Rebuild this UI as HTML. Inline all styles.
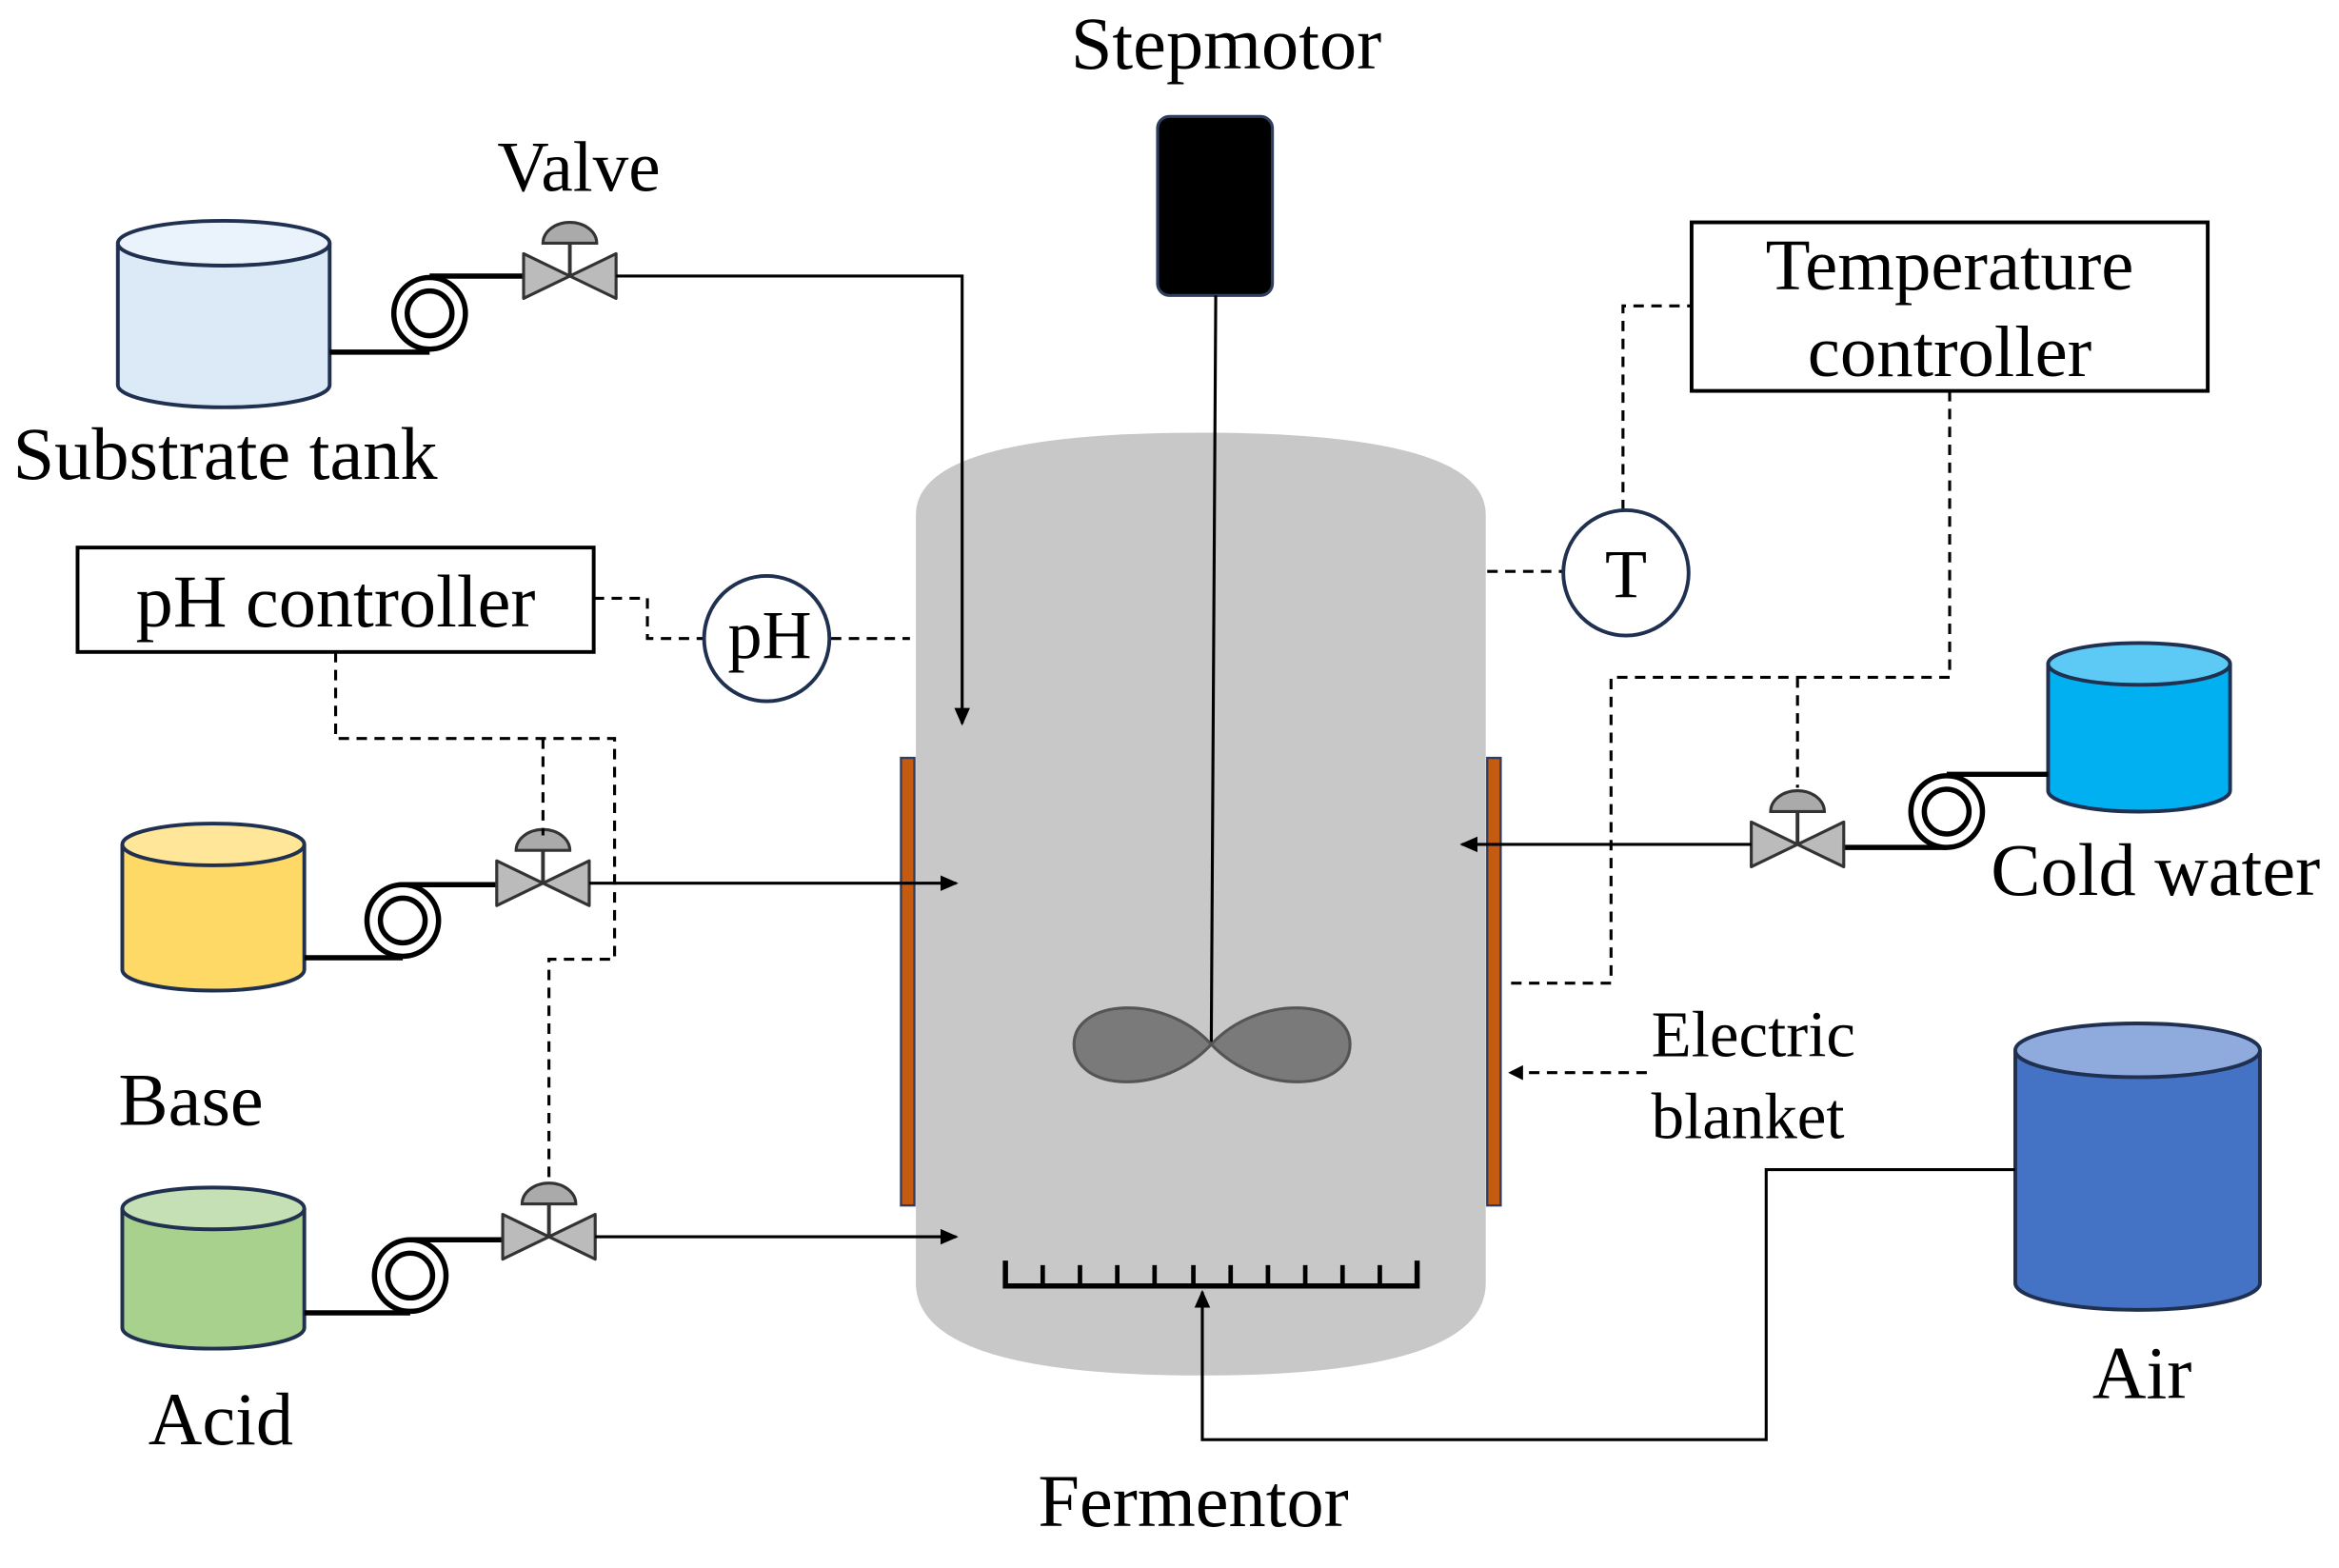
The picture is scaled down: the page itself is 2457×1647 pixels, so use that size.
<!DOCTYPE html>
<html><head><style>html,body{margin:0;padding:0;background:#fff}svg{display:block}</style></head>
<body>
<svg width="2457" height="1647" viewBox="0 0 1568 1051" xmlns="http://www.w3.org/2000/svg" font-family="Liberation Serif, serif">
<defs>
<marker id="ar" markerWidth="10" markerHeight="10" refX="9" refY="5" orient="auto" markerUnits="userSpaceOnUse"><path d="M0,0 L10,5 L0,10 z" fill="#000"/></marker>
<marker id="ar2" markerWidth="12" markerHeight="14" refX="14" refY="7" orient="auto" markerUnits="userSpaceOnUse" viewBox="0 0 16 14"><path d="M0,0 L16,7 L0,14 z" fill="#000"/></marker>
<g id="valve"><path d="M-31,-15 L31,15 L31,-15 L-31,15 Z" fill="#bbb" stroke="#333" stroke-width="2" stroke-linejoin="round"/><line x1="0" y1="0" x2="0" y2="-22" stroke="#333" stroke-width="2.5"/><path d="M-18,-22 A18,14 0 0 1 18,-22 Z" fill="#aaa" stroke="#333" stroke-width="2"/></g>
<g id="pump"><circle cx="0" cy="0" r="24" fill="#fff" stroke="#000" stroke-width="3.5"/><circle cx="0" cy="0" r="15" fill="#fff" stroke="#000" stroke-width="3.5"/></g>
</defs>
<path d="M614,345 Q614,290 805,290 Q996,290 996,345 L996,860 Q996,922 805,922 Q614,922 614,860 Z" fill="#c8c8c8"/>
<rect x="604" y="508" width="9" height="300" fill="#c55a11" stroke="#2f3e60" stroke-width="1.5"/>
<rect x="997" y="508" width="9" height="300" fill="#c55a11" stroke="#2f3e60" stroke-width="1.5"/>
<rect x="776" y="78" width="77" height="120" rx="8" fill="#000" stroke="#2f3e60" stroke-width="2"/>
<line x1="815" y1="198" x2="812" y2="700" stroke="#000" stroke-width="2"/>
<path d="M812,700 C780,665 720,670 720,700 C720,732 780,735 812,700 C845,665 905,670 905,700 C905,732 845,735 812,700 Z" fill="#7a7a7a" stroke="#555" stroke-width="2"/>
<path d="M674,845 V862 H950 V845" fill="none" stroke="#000" stroke-width="3.5"/>
<g stroke="#000" stroke-width="3">
<line x1="699" y1="848" x2="699" y2="862"/><line x1="724" y1="848" x2="724" y2="862"/><line x1="749" y1="848" x2="749" y2="862"/><line x1="774" y1="848" x2="774" y2="862"/><line x1="800" y1="848" x2="800" y2="862"/><line x1="825" y1="848" x2="825" y2="862"/><line x1="850" y1="848" x2="850" y2="862"/><line x1="875" y1="848" x2="875" y2="862"/><line x1="900" y1="848" x2="900" y2="862"/><line x1="925" y1="848" x2="925" y2="862"/>
</g>
<g stroke="#1f3050" stroke-width="2.5">
<path d="M79,163 V258 A71,15 0 0 0 221,258 V163" fill="#dce9f7"/><ellipse cx="150" cy="163" rx="71" ry="15" fill="#eaf3fb"/>
<path d="M82,566 V650 A61,14 0 0 0 204,650 V566" fill="#ffd966"/><ellipse cx="143" cy="566" rx="61" ry="14" fill="#ffe699"/>
<path d="M82,810 V890 A61,14 0 0 0 204,890 V810" fill="#a9d18e"/><ellipse cx="143" cy="810" rx="61" ry="14" fill="#c5e0b4"/>
<path d="M1373,445 V530 A61,14 0 0 0 1495,530 V445" fill="#00b0f0"/><ellipse cx="1434" cy="445" rx="61" ry="14" fill="#5ccaf5"/>
<path d="M1351,704 V860 A82,18 0 0 0 1515,860 V704" fill="#4472c4"/><ellipse cx="1433" cy="704" rx="82" ry="18" fill="#8faadc"/>
</g>
<g stroke="#000" stroke-width="3.5" fill="none">
<path d="M221,236 H288 M288,185 H352"/>
<path d="M204,642 H270 M270,593 H334"/>
<path d="M204,880 H275 M275,831 H338"/>
<path d="M1305,519 H1373 M1305,568 H1235"/>
</g>
<use href="#pump" x="288" y="210"/><use href="#pump" x="270" y="617"/><use href="#pump" x="275" y="855"/><use href="#pump" x="1305" y="544"/>
<use href="#valve" x="382" y="185"/><use href="#valve" x="364" y="592"/><use href="#valve" x="368" y="829"/><use href="#valve" x="1205" y="566"/>
<g stroke="#000" stroke-width="2" fill="none">
<path d="M413,185 H645 V485" marker-end="url(#ar2)"/>
<path d="M395,592 H641" marker-end="url(#ar2)"/>
<path d="M399,829 H641" marker-end="url(#ar2)"/>
<path d="M1174,566 H980" marker-end="url(#ar2)"/>
<path d="M1351,784 H1184 V965 H806 V866" marker-end="url(#ar2)"/>
</g>
<g stroke="#000" stroke-width="2" fill="none" stroke-dasharray="7,5">
<path d="M398,401 H434 V428 H472"/>
<path d="M557,428 H610"/>
<path d="M225,437 V495 H412 V643 H368 V790"/>
<path d="M364,495 V560"/>
<path d="M1088,342 V205 H1134"/>
<path d="M997,383 H1047"/>
<path d="M1307,262 V454 H1080 V659 H1008"/>
<path d="M1205,454 V528"/>
<path d="M1104,719 H1012" marker-end="url(#ar)"/>
</g>
<circle cx="514" cy="428" r="42" fill="#fff" stroke="#1f3050" stroke-width="2.5"/>
<circle cx="1090" cy="384" r="42" fill="#fff" stroke="#1f3050" stroke-width="2.5"/>
<rect x="52" y="367" width="346" height="70" fill="#fff" stroke="#000" stroke-width="2.5"/>
<rect x="1134" y="149" width="346" height="113" fill="#fff" stroke="#000" stroke-width="2.5"/>
<g font-size="50" fill="#000" text-anchor="middle">
<text x="822" y="46">Stepmotor</text>
<text x="388" y="128" font-size="48">Valve</text>
<text x="151" y="321">Substrate tank</text>
<text x="225" y="420">pH controller</text>
<text x="516" y="441" font-size="46">pH</text>
<text x="1090" y="400" font-size="46">T</text>
<text x="1307" y="194" font-size="49">Temperature</text>
<text x="1307" y="252" font-size="49">controller</text>
<text x="1445" y="600">Cold water</text>
<text x="128" y="754">Base</text>
<text x="148" y="968">Acid</text>
<text x="1436" y="937">Air</text>
<text x="800" y="1023">Fermentor</text>
</g>
<g font-size="44" fill="#000">
<text x="1107" y="708">Electric</text>
<text x="1107" y="763">blanket</text>
</g>
</svg>
</body></html>
